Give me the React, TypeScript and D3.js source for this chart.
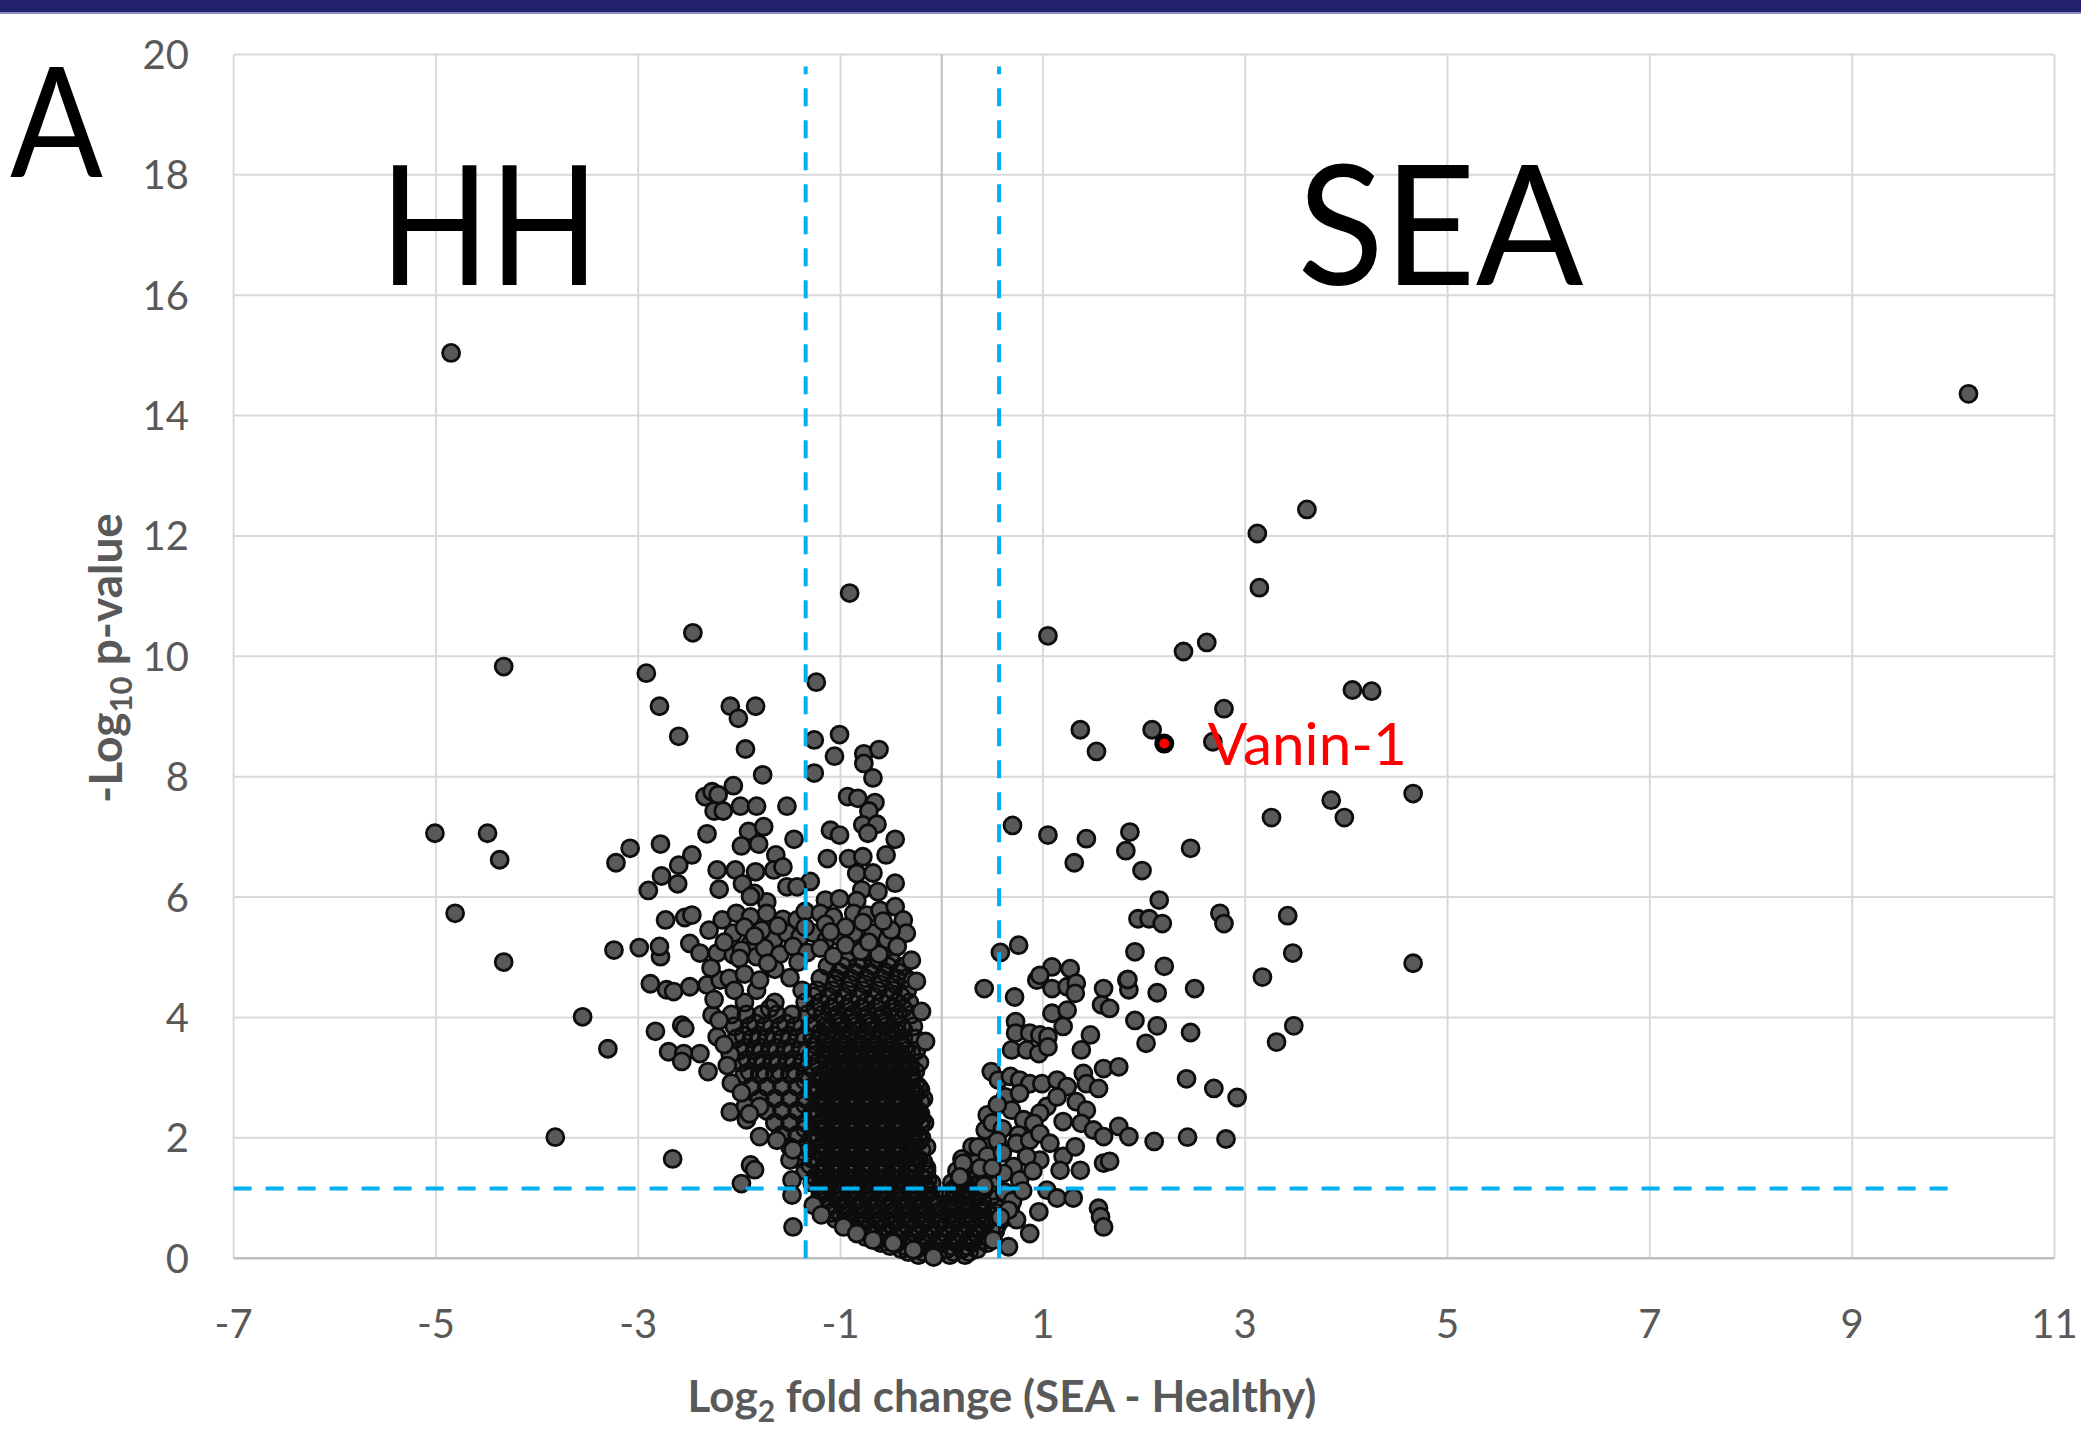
import React from 'react';
import * as d3 from 'd3';

const W = 2081;
const H = 1431;

// axis ticks
const xTicks = [-7, -5, -3, -1, 1, 3, 5, 7, 9, 11];
const yTicks = [0, 2, 4, 6, 8, 10, 12, 14, 16, 18, 20];

// cut-offs drawn as dashed lines
const foldCutoffs = [-1.345, 0.567];
const pCutoff = 1.16;

// far-out proteins on the HH side [log2 fold change, -log10 p]
const hhOutliers: [number, number][] = [
  [-4.85, 15.04], [-4.33, 9.83], [-2.46, 10.39], [-0.91, 11.05], [-2.92, 9.72], [-1.24, 9.57],
  [-2.79, 9.17], [-2.09, 9.17], [-1.84, 9.17], [-2.01, 8.97], [-2.6, 8.67], [-5.01, 7.06],
  [-4.49, 7.06], [-4.37, 6.62], [-4.81, 5.73], [-4.33, 4.92], [-3.55, 4.01], [-3.3, 3.48],
  [-3.82, 2.01], [-2.66, 1.65], [-3.24, 5.12], [-3.22, 6.57], [-3.08, 6.81], [-2.99, 5.16],
  [-2.79, 5.18], [-2.88, 4.56], [-2.83, 3.77],
];

// upper part and fringe of the HH arm
const hhArm: [number, number][] = [
  [-1.26, 8.61], [-1.01, 8.7], [-1.94, 8.46], [-1.06, 8.34], [-0.77, 8.38], [-0.62, 8.45],
  [-0.77, 8.22], [-1.26, 8.06], [-0.68, 7.98], [-1.77, 8.03], [-2.06, 7.85], [-2.34, 7.67],
  [-2.27, 7.75], [-2.21, 7.7], [-2.25, 7.43], [-2.16, 7.43], [-1.99, 7.51], [-1.83, 7.51],
  [-1.53, 7.51], [-0.93, 7.67], [-0.83, 7.64], [-0.66, 7.57], [-0.72, 7.43], [-2.32, 7.05],
  [-1.91, 7.09], [-1.76, 7.17], [-1.46, 6.96], [-1.1, 7.11], [-1.01, 7.03], [-0.78, 7.2],
  [-0.64, 7.21], [-0.73, 7.06], [-0.46, 6.96], [-2.78, 6.88], [-2.47, 6.7], [-1.98, 6.85],
  [-1.81, 6.88], [-1.64, 6.7], [-1.13, 6.64], [-0.92, 6.64], [-0.78, 6.67], [-0.55, 6.7],
  [-2.6, 6.53], [-2.77, 6.35], [-2.22, 6.45], [-2.04, 6.45], [-1.84, 6.42], [-1.66, 6.45],
  [-1.57, 6.5], [-1.3, 6.26], [-0.84, 6.39], [-0.68, 6.4], [-0.46, 6.23], [-2.9, 6.11],
  [-2.61, 6.22], [-2.2, 6.13], [-1.97, 6.22], [-1.53, 6.17], [-1.43, 6.17], [-0.79, 6.12],
  [-0.63, 6.09], [-1.15, 5.95], [-1.01, 5.97], [-0.84, 5.94], [-1.73, 5.92], [-1.85, 6.06],
  [-1.89, 6.01], [-2.73, 5.62], [-2.54, 5.66], [-2.47, 5.7], [-2.17, 5.62], [-2.03, 5.73],
  [-1.89, 5.67], [-1.73, 5.73], [-1.57, 5.63], [-1.43, 5.62], [-1.35, 5.76], [-1.2, 5.73],
  [-1.07, 5.67], [-0.87, 5.73], [-0.74, 5.7], [-0.61, 5.78], [-0.46, 5.84], [-0.38, 5.62],
  [-0.35, 5.4], [-2.78, 5.01], [-2.49, 5.23], [-2.39, 5.07], [-2.22, 5.07], [-2.06, 5.4],
  [-2.06, 5.04], [-1.89, 5.23], [-1.83, 5.01], [-1.66, 5.29], [-1.53, 5.4], [-1.4, 5.34],
  [-1.27, 5.4], [-1.14, 5.29], [-1.01, 5.34], [-0.87, 5.4], [-0.68, 5.4], [-0.54, 5.29],
  [-0.44, 5.18],
  [-2.72, 4.46], [-2.65, 4.43], [-2.49, 4.51], [-2.32, 4.54], [-2.19, 4.62], [-2.57, 3.87],
  [-2.54, 3.82], [-2.27, 4.04], [-2.22, 3.68], [-2.7, 3.43], [-2.55, 3.4], [-2.39, 3.4],
  [-2.57, 3.27], [-2.31, 3.1], [-2.09, 3.38], [-2.08, 2.91], [-2.09, 2.43], [-1.94, 2.52],
  [-1.93, 2.3], [-1.8, 2.52], [-1.8, 2.02], [-1.63, 1.96], [-1.5, 1.63], [-1.47, 1.8],
  [-1.89, 1.55], [-1.85, 1.47], [-1.98, 1.24], [-1.48, 1.3], [-1.48, 1.05], [-1.47, 0.52],
  [-1.27, 0.88], [-1.19, 0.72], [-0.97, 0.52], [-0.84, 0.41], [-0.68, 0.3], [-0.48, 0.25],
  [-0.28, 0.14], [-0.08, 0.02],
  [-2.15, 5.25], [-1.98, 5.12], [-1.75, 5.15], [-1.6, 5.05], [-1.47, 5.18], [-1.33, 5.08],
  [-1.2, 5.15], [-1.07, 5.02], [-0.95, 5.2], [-0.8, 5.1], [-0.62, 5.05], [-0.5, 5.45],
  [-2.3, 5.45], [-1.95, 5.5], [-1.78, 5.45], [-1.62, 5.52], [-1.35, 5.5], [-1.15, 5.55],
  [-0.95, 5.5], [-0.78, 5.58], [-0.58, 5.6], [-2.0, 4.98], [-1.85, 5.35], [-1.1, 5.42],
  [-0.72, 5.25], [-2.25, 4.3], [-2.2, 3.95], [-2.15, 3.55], [-2.12, 3.2], [-1.98, 2.75],
  [-1.9, 2.4], [-2.28, 4.82], [-0.3, 4.95], [-0.25, 4.6], [-0.2, 4.1], [-0.16, 3.6],
  [-2.1, 4.65], [-1.95, 4.72], [-1.8, 4.62], [-1.65, 4.8], [-1.5, 4.66], [-2.05, 4.45],
  [-1.72, 4.9], [-1.42, 4.92],
];

// dense bottom of the volcano, read row by row: [-log10 p, fold changes]
const coreRows: [number, number[]][] = [
  [0.05, [-0.23, -0.08, 0.08, 0.23]],
  [0.15, [-0.4, -0.25, -0.1, 0.05, 0.2, 0.35]],
  [0.25, [-0.6, -0.45, -0.3, -0.15, 0, 0.15, 0.3, 0.45]],
  [0.35, [-0.75, -0.6, -0.45, -0.3, -0.15, 0, 0.15, 0.3, 0.45]],
  [0.45, [-0.83, -0.68, -0.53, -0.38, -0.23, -0.08, 0.08, 0.23, 0.38, 0.53]],
  [0.55, [-0.95, -0.8, -0.65, -0.5, -0.35, -0.2, -0.05, 0.1, 0.25, 0.4, 0.55]],
  [0.65, [-1.05, -0.9, -0.75, -0.6, -0.45, -0.3, -0.15, 0, 0.15, 0.3, 0.45, 0.6]],
  [0.75, [-1.1, -0.95, -0.8, -0.65, -0.5, -0.35, -0.2, -0.05, 0.1, 0.25, 0.4, 0.55]],
  [0.85, [-1.13, -0.98, -0.83, -0.68, -0.53, -0.38, -0.23, -0.08, 0.08, 0.23, 0.38, 0.53, 0.68]],
  [0.95, [-1.15, -1.0, -0.85, -0.7, -0.55, -0.4, -0.25, -0.1, 0.1, 0.25, 0.4]],
  [1.05, [-1.2, -1.05, -0.9, -0.75, -0.6, -0.45, -0.3, -0.15, 0.05, 0.2, 0.35, 0.5]],
  [1.15, [-1.2, -1.05, -0.9, -0.75, -0.6, -0.45, -0.3, -0.15, 0.12, 0.28, 0.42]],
  [1.25, [-1.28, -1.13, -0.98, -0.83, -0.68, -0.53, -0.38, -0.23, -0.1, 0.1, 0.23, 0.38, 0.53]],
  [1.35, [-1.25, -1.1, -0.95, -0.8, -0.65, -0.5, -0.35, -0.2, 0.2, 0.35]],
  [1.45, [-1.35, -1.2, -1.05, -0.9, -0.75, -0.6, -0.45, -0.3, -0.15, 0.15, 0.3, 0.45]],
  [1.55, [-1.3, -1.15, -1.0, -0.85, -0.7, -0.55, -0.4, -0.25]],
  [1.65, [-1.43, -1.28, -1.13, -0.98, -0.83, -0.68, -0.53, -0.38, -0.23, 0.2, 0.35, 0.5]],
  [1.75, [-1.35, -1.2, -1.05, -0.9, -0.75, -0.6, -0.45, -0.3]],
  [1.85, [-1.5, -1.35, -1.2, -1.05, -0.9, -0.75, -0.6, -0.45, -0.3, -0.15, 0.3, 0.45]],
  [1.95, [-1.28, -1.13, -0.98, -0.83, -0.68, -0.53, -0.38, -0.22]],
  [2.05, [-1.58, -1.43, -1.28, -1.13, -0.98, -0.83, -0.68, -0.53, -0.38, -0.23]],
  [2.15, [-1.35, -1.2, -1.05, -0.9, -0.75, -0.6, -0.45, -0.3]],
  [2.25, [-1.65, -1.5, -1.35, -1.2, -1.05, -0.9, -0.75, -0.6, -0.45, -0.3, -0.17]],
  [2.35, [-1.28, -1.13, -0.98, -0.83, -0.68, -0.53, -0.38, -0.25]],
  [2.45, [-1.73, -1.58, -1.43, -1.28, -1.13, -0.98, -0.83, -0.68, -0.53, -0.38, -0.23]],
  [2.55, [-1.35, -1.2, -1.05, -0.9, -0.75, -0.6, -0.45, -0.3]],
  [2.65, [-1.8, -1.65, -1.5, -1.35, -1.2, -1.05, -0.9, -0.75, -0.6, -0.45, -0.3, -0.18]],
  [2.75, [-1.28, -1.13, -0.98, -0.83, -0.68, -0.53, -0.38, -0.26]],
  [2.85, [-1.88, -1.73, -1.58, -1.43, -1.28, -1.13, -0.98, -0.83, -0.68, -0.53, -0.38, -0.23]],
  [2.95, [-1.35, -1.2, -1.05, -0.9, -0.75, -0.6, -0.45, -0.3]],
  [3.05, [-1.95, -1.8, -1.65, -1.5, -1.35, -1.2, -1.05, -0.9, -0.75, -0.6, -0.45, -0.3]],
  [3.15, [-1.28, -1.13, -0.98, -0.83, -0.68, -0.53, -0.4]],
  [3.25, [-1.98, -1.83, -1.68, -1.53, -1.38, -1.23, -1.08, -0.93, -0.78, -0.63, -0.48, -0.33, -0.22]],
  [3.35, [-1.3, -1.15, -1.0, -0.85, -0.7, -0.55, -0.4]],
  [3.45, [-2.0, -1.85, -1.7, -1.55, -1.4, -1.25, -1.1, -0.95, -0.8, -0.65, -0.5, -0.35, -0.25]],
  [3.55, [-1.25, -1.1, -0.95, -0.8, -0.65, -0.5, -0.4]],
  [3.65, [-2.03, -1.88, -1.73, -1.58, -1.43, -1.28, -1.13, -0.98, -0.83, -0.68, -0.53, -0.38, -0.26]],
  [3.75, [-1.2, -1.05, -0.9, -0.75, -0.6, -0.45]],
  [3.85, [-2.05, -1.9, -1.75, -1.6, -1.45, -1.3, -1.15, -1.0, -0.85, -0.7, -0.55, -0.4, -0.28]],
  [3.95, [-1.15, -1.0, -0.85, -0.7, -0.55]],
  [4.05, [-2.08, -1.93, -1.78, -1.63, -1.48, -1.33, -1.18, -1.03, -0.88, -0.73, -0.58, -0.43, -0.3]],
  [4.25, [-1.95, -1.65, -1.35, -1.2, -1.05, -0.9, -0.75, -0.6, -0.45, -0.32]],
  [4.45, [-1.83, -1.38, -1.23, -1.08, -0.93, -0.78, -0.63, -0.48, -0.34]],
  [4.65, [-1.2, -1.05, -0.9, -0.75, -0.6, -0.45, -0.35]],
  [4.85, [-1.13, -0.98, -0.83, -0.68, -0.53, -0.38]],
];

// darkest (most overlapped) part of the core
const coreInnerRows: [number, number[]][] = [
  [0.1, [-0.33, -0.18, -0.03, 0.12, 0.27]],
  [0.2, [-0.51, -0.36, -0.21, -0.06, 0.09, 0.24]],
  [0.3, [-0.64, -0.49, -0.34, -0.19, -0.04, 0.11, 0.26, 0.41]],
  [0.4, [-0.71, -0.56, -0.41, -0.26, -0.11, 0.04, 0.19, 0.34]],
  [0.5, [-0.86, -0.71, -0.56, -0.41, -0.26, -0.11, 0.04, 0.19, 0.34, 0.49]],
  [0.6, [-0.91, -0.76, -0.61, -0.46, -0.31, -0.16, -0.01, 0.14, 0.29, 0.44]],
  [0.7, [-0.99, -0.84, -0.69, -0.54, -0.39, -0.24, -0.09, 0.06, 0.21, 0.36, 0.51]],
  [0.8, [-1.06, -0.91, -0.76, -0.61, -0.46, -0.31, -0.16, -0.01, 0.14, 0.29, 0.44]],
  [0.9, [-1.09, -0.94, -0.79, -0.64, -0.49, -0.34, -0.19, -0.04, 0.06, 0.21, 0.36]],
  [1.0, [-1.16, -1.01, -0.86, -0.71, -0.56, -0.41, -0.26, -0.11, 0.14, 0.29]],
  [1.1, [-1.14, -0.99, -0.84, -0.69, -0.54, -0.39, -0.24, -0.12, 0.09, 0.24, 0.39]],
  [1.2, [-1.21, -1.06, -0.91, -0.76, -0.61, -0.46, -0.31, -0.16, 0.16, 0.31]],
  [1.3, [-1.17, -1.02, -0.87, -0.72, -0.57, -0.42, -0.27, -0.14, 0.18, 0.32]],
  [1.4, [-1.21, -1.06, -0.91, -0.76, -0.61, -0.46, -0.31, -0.16, 0.24]],
  [1.5, [-1.17, -1.02, -0.87, -0.72, -0.57, -0.42, -0.27, -0.15, 0.22]],
  [1.6, [-1.21, -1.06, -0.91, -0.76, -0.61, -0.46, -0.31, -0.18]],
  [1.7, [-1.17, -1.02, -0.87, -0.72, -0.57, -0.42, -0.27]],
  [1.8, [-1.21, -1.06, -0.91, -0.76, -0.61, -0.46, -0.31, -0.2]],
  [1.9, [-1.17, -1.02, -0.87, -0.72, -0.57, -0.42, -0.27]],
  [2.0, [-1.21, -1.06, -0.91, -0.76, -0.61, -0.46, -0.31, -0.2]],
  [2.1, [-1.17, -1.02, -0.87, -0.72, -0.57, -0.42, -0.27]],
  [2.2, [-1.21, -1.06, -0.91, -0.76, -0.61, -0.46, -0.31, -0.21]],
  [2.3, [-1.17, -1.02, -0.87, -0.72, -0.57, -0.42, -0.27, -0.2]],
  [2.4, [-1.21, -1.06, -0.91, -0.76, -0.61, -0.46, -0.31, -0.21]],
  [2.5, [-1.17, -1.02, -0.87, -0.72, -0.57, -0.42, -0.27]],
  [2.6, [-1.21, -1.06, -0.91, -0.76, -0.61, -0.46, -0.31, -0.21]],
  [2.7, [-1.17, -1.02, -0.87, -0.72, -0.57, -0.42, -0.27]],
  [2.8, [-1.21, -1.06, -0.91, -0.76, -0.61, -0.46, -0.31, -0.21]],
  [2.9, [-1.14, -0.99, -0.84, -0.69, -0.54, -0.39, -0.26]],
  [3.0, [-1.21, -1.06, -0.91, -0.76, -0.61, -0.46, -0.31]],
  [3.1, [-1.9, -1.75, -1.6, -1.45, -1.14, -0.99, -0.84, -0.69, -0.54, -0.39, -0.26]],
  [3.2, [-1.21, -1.06, -0.91, -0.76, -0.61, -0.46, -0.31]],
  [3.3, [-1.92, -1.77, -1.62, -1.47, -1.12, -0.97, -0.82, -0.67, -0.52, -0.37]],
  [3.4, [-1.16, -1.01, -0.86, -0.71, -0.56, -0.41, -0.3]],
  [3.5, [-1.94, -1.79, -1.64, -1.49, -1.12, -0.97, -0.82, -0.67, -0.52, -0.37]],
  [3.6, [-1.16, -1.01, -0.86, -0.71, -0.56, -0.41]],
  [3.7, [-1.96, -1.81, -1.66, -1.51, -1.36, -1.08, -0.93, -0.78, -0.63, -0.48]],
  [3.8, [-1.11, -0.96, -0.81, -0.66, -0.51, -0.38]],
  [3.9, [-1.84, -1.54, -1.24, -1.02, -0.87, -0.72, -0.57, -0.45]],
  [4.0, [-1.06, -0.91, -0.76, -0.61, -0.46]],
  [4.15, [-1.7, -1.25, -1.1, -0.95, -0.8, -0.65, -0.5, -0.38]],
  [4.35, [-1.27, -1.12, -0.97, -0.82, -0.67, -0.52, -0.4]],
  [4.55, [-1.06, -0.91, -0.76, -0.61, -0.46]],
  [4.75, [-1.01, -0.86, -0.71, -0.56, -0.43]],
  [4.95, [-0.93, -0.78, -0.63, -0.5]],
  [5.15, [-0.83, -0.68, -0.55]],
];

// SEA arm near the centre
const seaArm: [number, number][] = [
  [0.58, 5.08], [0.76, 5.2], [0.42, 4.48], [0.72, 4.34], [1.09, 4.84], [1.27, 4.81],
  [0.94, 4.62], [0.97, 4.7], [1.09, 4.48], [1.24, 4.51], [1.33, 4.57], [1.32, 4.4],
  [1.6, 4.48], [1.83, 4.62], [1.85, 4.46], [1.58, 4.21], [1.66, 4.15], [2.02, 3.57],
  [1.09, 4.07], [1.24, 4.12], [1.2, 3.85], [0.73, 3.93], [0.73, 3.74], [0.87, 3.74],
  [0.97, 3.71], [1.05, 3.68], [0.69, 3.46], [0.84, 3.46], [0.96, 3.4], [1.05, 3.51],
  [1.47, 3.71], [1.38, 3.46], [1.4, 3.07], [1.6, 3.15], [1.75, 3.18], [0.49, 3.1],
  [0.56, 2.96], [0.68, 3.02], [0.77, 2.96], [0.87, 2.9], [0.99, 2.9], [1.14, 2.96],
  [1.24, 2.85], [1.43, 2.9], [1.55, 2.82], [1.33, 2.6], [1.43, 2.46], [0.63, 2.68],
  [0.77, 2.74], [0.69, 2.46], [0.81, 2.3], [1.04, 2.52], [1.14, 2.68], [0.97, 2.41],
  [0.91, 2.24], [1.2, 2.27], [1.38, 2.24], [1.5, 2.13], [1.6, 2.02], [1.75, 2.19],
  [1.85, 2.02], [0.45, 2.38], [0.43, 2.13], [0.36, 1.85], [0.21, 1.58], [0.18, 1.35],
  [0.76, 2.05], [0.74, 1.91], [0.87, 1.96], [0.97, 2.07], [1.07, 1.91], [1.2, 1.69],
  [1.32, 1.85], [1.37, 1.46], [1.17, 1.46], [1.6, 1.58], [1.66, 1.61], [0.97, 1.63],
  [0.84, 1.69], [0.71, 1.52], [0.61, 1.41], [0.77, 1.3], [1.04, 1.13], [1.14, 1.0],
  [1.3, 1.0], [0.96, 0.77], [1.55, 0.83], [1.57, 0.69], [1.6, 0.52], [0.87, 0.41],
  [0.74, 0.64], [0.66, 0.19], [0.51, 0.3], [0.55, 2.55], [0.5, 2.25], [0.6, 2.15],
  [0.55, 1.95], [0.45, 1.7], [0.6, 1.75], [0.38, 1.5], [0.5, 1.5], [0.62, 1.1],
  [0.7, 0.95], [0.66, 0.8], [0.58, 0.68], [0.8, 1.12], [0.9, 1.45], [0.42, 1.2],
];

// far-out proteins on the SEA side
const seaOutliers: [number, number][] = [
  [10.15, 14.36], [3.61, 12.44], [3.12, 12.04], [3.14, 11.14], [1.05, 10.34], [2.62, 10.23],
  [2.39, 10.08], [4.06, 9.44], [4.25, 9.42], [2.79, 9.13], [1.37, 8.78], [2.08, 8.78],
  [1.53, 8.42], [2.68, 8.58], [3.85, 7.61], [3.98, 7.32], [4.66, 7.72], [3.26, 7.32],
  [0.7, 7.19], [1.05, 7.03], [1.43, 6.97], [1.86, 7.08], [1.82, 6.77], [2.46, 6.81],
  [1.31, 6.57], [1.98, 6.44], [2.15, 5.95], [1.94, 5.64], [2.05, 5.64], [2.18, 5.56],
  [2.75, 5.73], [2.79, 5.56], [3.42, 5.69], [3.47, 5.07], [1.91, 5.09], [2.2, 4.85],
  [3.17, 4.67], [4.66, 4.9], [2.5, 4.48], [2.13, 4.41], [1.84, 4.63], [3.48, 3.86],
  [3.31, 3.59], [2.46, 3.75], [2.13, 3.86], [1.91, 3.95], [2.42, 2.98], [2.69, 2.82],
  [2.92, 2.67], [2.1, 1.94], [2.43, 2.01], [2.81, 1.98],
];

const highlight = { name: 'Vanin-1', fc: 2.2, p: 8.55, labelFc: 2.63, labelP: 8.19 };
const groups = [
  { name: 'HH', fc: -4.47, p: 16.17, width: 219 },
  { name: 'SEA', fc: 4.93, p: 16.17, width: 286 },
];

const FONT = "Lato, 'Open Sans', sans-serif";
const GREY = '#595959';
const DOT_R = 8.5;
const DOT_FILL = '#595959';
const DOT_EDGE = '#0d0d0d';

export default function App() {
  const x = d3.scaleLinear().domain([-7, 11]).range([233.6, 2054.5]);
  const y = d3.scaleLinear().domain([0, 20]).range([1258.2, 54.4]);

  const fromRows = (rows: [number, number[]][]) =>
    rows.flatMap(([p, fcs]) => fcs.map((fc) => [fc, p] as [number, number]));
  const corePoints = [...fromRows(coreRows), ...fromRows(coreInnerRows)];
  const points = [...hhArm, ...hhOutliers, ...seaArm, ...seaOutliers];

  return (
    <svg
      width={W}
      height={H}
      style={{ position: 'absolute', left: 0, top: 0, background: '#fff' }}
      fontFamily={FONT}
    >
      <rect x={0} y={0} width={W} height={H} fill="#fff" />
      <rect x={0} y={0} width={W} height={12} fill="#22226f" />
      <line x1={0} x2={W} y1={13} y2={13} stroke="#8d8dc2" strokeWidth={2} />

      {/* grid */}
      {yTicks.filter((t) => t > 0).map((t) => (
        <line key={'gy' + t} x1={x(-7)} x2={x(11)} y1={y(t)} y2={y(t)} stroke="#d9d9d9" strokeWidth={2} />
      ))}
      {xTicks.map((t) => (
        <line key={'gx' + t} x1={x(t)} x2={x(t)} y1={y(0)} y2={y(20)} stroke="#d9d9d9" strokeWidth={2} />
      ))}
      <line x1={x(0)} x2={x(0)} y1={y(0)} y2={y(20)} stroke="#bfbfbf" strokeWidth={2} />
      <line x1={x(-7)} x2={x(11)} y1={y(0)} y2={y(0)} stroke="#bfbfbf" strokeWidth={2.5} />

      {/* tick labels */}
      {yTicks.map((t) => (
        <text key={'ty' + t} x={189} y={y(t) + 14.5} textAnchor="end" fontSize={40} fill={GREY}>
          {t}
        </text>
      ))}
      {xTicks.map((t) => (
        <text key={'tx' + t} x={x(t)} y={1338} textAnchor="middle" fontSize={40} fill={GREY}>
          {t}
        </text>
      ))}

      {/* axis titles */}
      <text x={1002} y={1412} textAnchor="middle" fontSize={44} fontWeight="bold" fill={GREY}>
        Log<tspan fontSize={30} dy={10}>2</tspan>
        <tspan dy={-10}> fold change (SEA - Healthy)</tspan>
      </text>
      <text
        transform="translate(122,658) rotate(-90)"
        textAnchor="middle"
        fontSize={46}
        fontWeight="bold"
        fill={GREY}
      >
        -Log<tspan fontSize={31} dy={10}>10</tspan>
        <tspan dy={-10}> p-value</tspan>
      </text>

      {/* dense core: fills first, outlines over them, as the overlapped markers read */}
      <g>
        {corePoints.map(([fc, p], i) => (
          <circle key={'cf' + i} cx={x(fc)} cy={y(p)} r={DOT_R} fill={DOT_FILL} />
        ))}
      </g>
      <g>
        {corePoints.map(([fc, p], i) => (
          <circle key={'cs' + i} cx={x(fc)} cy={y(p)} r={DOT_R} fill="none" stroke={DOT_EDGE} strokeWidth={2.8} />
        ))}
      </g>

      {/* remaining proteins */}
      <g>
        {points.map(([fc, p], i) => (
          <circle key={i} cx={x(fc)} cy={y(p)} r={DOT_R} fill={DOT_FILL} stroke={DOT_EDGE} strokeWidth={2.8} />
        ))}
      </g>

      {/* cut-offs */}
      {foldCutoffs.map((c) => (
        <line
          key={'fc' + c}
          x1={x(c)}
          x2={x(c)}
          y1={y(0)}
          y2={y(19.8)}
          stroke="#00b0f0"
          strokeWidth={4}
          strokeDasharray="18,14"
        />
      ))}
      <line
        x1={x(-7)}
        x2={x(10)}
        y1={y(pCutoff)}
        y2={y(pCutoff)}
        stroke="#00b0f0"
        strokeWidth={4}
        strokeDasharray="18,14"
      />

      {/* highlighted protein */}
      <circle cx={x(highlight.fc)} cy={y(highlight.p)} r={7.5} fill="#ff0000" stroke="#000" strokeWidth={5} />
      <text
        x={x(highlight.labelFc)}
        y={y(highlight.labelP)}
        fontSize={58}
        fill="#ff0000"
        textLength={199}
        lengthAdjust="spacingAndGlyphs"
      >
        {highlight.name}
      </text>

      {/* group labels */}
      {groups.map((g) => (
        <text
          key={g.name}
          x={x(g.fc)}
          y={y(g.p)}
          textAnchor="middle"
          fontSize={166}
          fill="#000"
          textLength={g.width}
          lengthAdjust="spacingAndGlyphs"
        >
          {g.name}
        </text>
      ))}

      <text x={10} y={177} fontSize={154} fill="#000" textLength={93} lengthAdjust="spacingAndGlyphs">
        A
      </text>
    </svg>
  );
}
